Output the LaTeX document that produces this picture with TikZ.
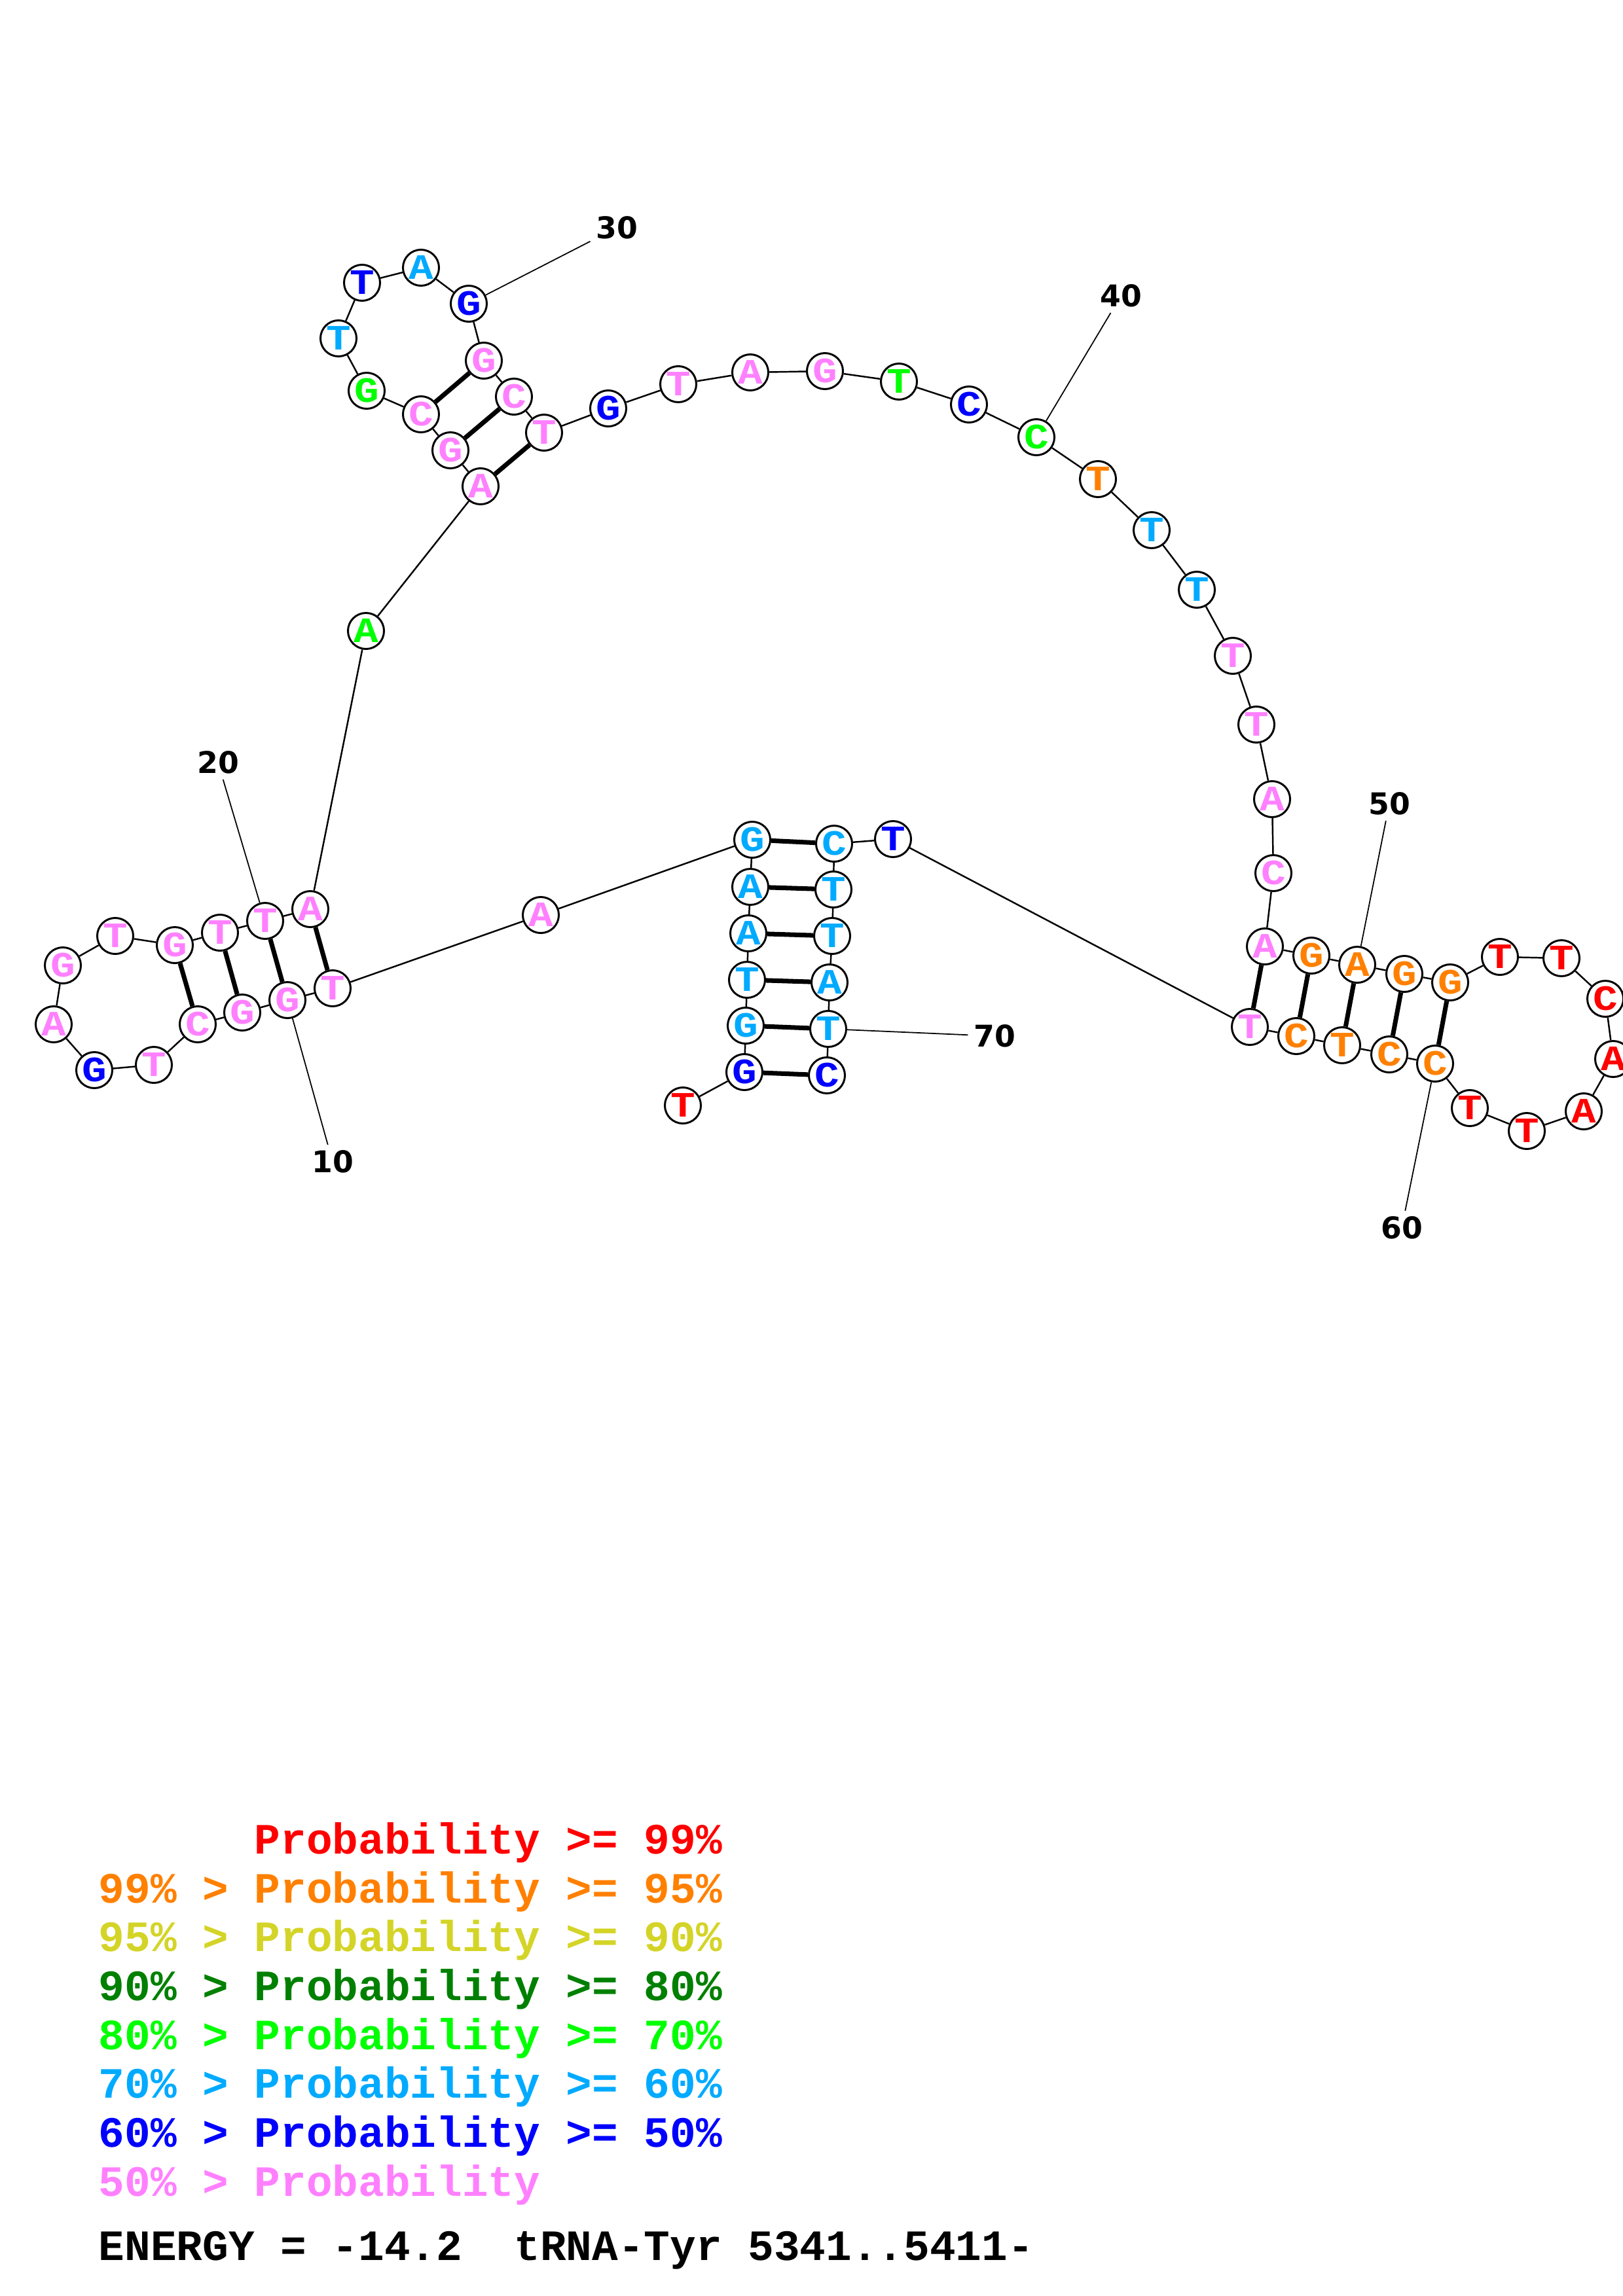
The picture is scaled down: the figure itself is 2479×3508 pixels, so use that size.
\documentclass[tikz,border=0pt]{standalone}
\usepackage{fontspec}
\newfontfamily\ntfont{Liberation Mono}
\newfontfamily\basefont{Liberation Mono}[FakeStretch=1.15]
\newfontfamily\numfont{DejaVu Sans}
\definecolor{p99}{RGB}{255,0,0}
\definecolor{p95}{RGB}{255,128,0}
\definecolor{p90}{RGB}{212,212,40}
\definecolor{p80}{RGB}{0,128,0}
\definecolor{p70}{RGB}{0,255,0}
\definecolor{p60}{RGB}{0,170,255}
\definecolor{p50}{RGB}{0,0,255}
\definecolor{plo}{RGB}{255,128,255}
\tikzset{
  nt/.style={circle,draw,fill=white,line width=0.85pt,minimum size=0.55cm,inner sep=0pt,
    font=\basefont\bfseries\fontsize{15.5}{15.5}\selectfont},
  bb/.style={line width=0.7pt},
  pair/.style={line width=2pt},
  numlbl/.style={inner sep=0.08cm,font=\numfont\bfseries\fontsize{13}{13}\selectfont},
  tick/.style={line width=0.5pt},
  legend/.style={anchor=base west,inner sep=0pt,font=\ntfont\bfseries\fontsize{18.8}{18.8}\selectfont}
}
\begin{document}
\begin{tikzpicture}[x=0.01cm,y=-0.01cm]
    \useasboundingbox (0,0) rectangle (2479,3508);
    % nucleotides 1..71
    \foreach [count=\i] \x/\y/\b/\c in {
        1043/1689/T/p99, 1137/1638/G/p50, 1139/1567/G/p60, 1141/1497/T/p60,
        1143/1426/A/p60, 1146/1355/A/p60, 1149/1283/G/p60, 826/1398/A/plo,
        508/1510/T/plo, 439/1528/G/plo, 370/1547/G/plo, 302/1565/C/plo,
        235/1627/T/plo, 144/1635/G/p50, 82/1565/A/plo, 96/1475/G/plo,
        176/1430/T/plo, 267/1444/G/plo, 336/1425/T/plo, 405/1407/T/plo,
        474/1389/A/plo, 559/964/A/p70, 734/743/A/plo, 688/688/G/plo,
        643/633/C/plo, 560/597/G/p70, 517/517/T/p60, 553/432/T/p50,
        643/409/A/p60, 716/464/G/p50, 739/551/G/plo, 785/606/C/plo,
        831/661/T/plo, 929/624/G/p50, 1036/587/T/plo, 1146/569/A/plo,
        1260/567/G/plo, 1373/583/T/p70, 1480/618/C/p50, 1583/668/C/p70,
        1677/732/T/p95, 1759/810/T/p60, 1828/901/T/p60, 1883/1002/T/plo,
        1919/1107/T/plo, 1943/1221/A/plo, 1945/1334/C/plo, 1932/1446/A/plo,
        2003/1460/G/p95, 2073/1474/A/p95, 2145/1488/G/p95, 2215/1501/G/p95,
        2291/1462/T/p99, 2385/1464/T/p99, 2452/1526/C/p99, 2464/1618/A/p99,
        2419/1698/A/p99, 2332/1728/T/p99, 2245/1693/T/p99, 2192/1625/C/p95,
        2122/1611/C/p95, 2050/1597/T/p95, 1980/1583/C/p95, 1909/1569/T/plo,
        1364/1282/T/p50, 1274/1289/C/p60, 1273/1359/T/p60, 1271/1430/T/p60,
        1267/1501/A/p60, 1265/1572/T/p60, 1263/1643/C/p50}
        \node[nt,text=\c] (n\i) at (\x,\y) {\b};
    % backbone
    \foreach \i in {1,...,70} {
        \pgfmathtruncatemacro\j{\i+1}
        \draw[bb] (n\i) -- (n\j);
    }
    % base pairs
    \foreach \a/\b in {2/71,3/70,4/69,5/68,6/67,7/66,9/21,10/20,11/19,12/18,
        23/33,24/32,25/31,48/64,49/63,50/62,51/61,52/60}
        \draw[pair] (n\a) -- (n\b);
    % position numbers
    \foreach \k/\x/\y in {10/508/1775,20/333/1165,30/942/348,40/1712/452,
        50/2122/1228,60/2141/1876,70/1519/1583} {
        \node[numlbl] (l\k) at (\x,\y) {\k};
        \draw[tick] (n\k) -- (l\k);
    }
    % legend
    \node[legend,text=p99] (leg1) at (150,2832) {\phantom{99\% > }Probability >= 99\%};
    \node[legend,text=p95] (leg2) at (150,2907) {99\% > Probability >= 95\%};
    \node[legend,text=p90] (leg3) at (150,2981) {95\% > Probability >= 90\%};
    \node[legend,text=p80] (leg4) at (150,3056) {90\% > Probability >= 80\%};
    \node[legend,text=p70] (leg5) at (150,3131) {80\% > Probability >= 70\%};
    \node[legend,text=p60] (leg6) at (150,3205) {70\% > Probability >= 60\%};
    \node[legend,text=p50] (leg7) at (150,3280) {60\% > Probability >= 50\%};
    \node[legend,text=plo] (leg8) at (150,3355) {50\% > Probability};
    \node[legend] (energy) at (150,3453) {ENERGY = -14.2\ \ tRNA-Tyr 5341..5411-};
\end{tikzpicture}
\end{document}
